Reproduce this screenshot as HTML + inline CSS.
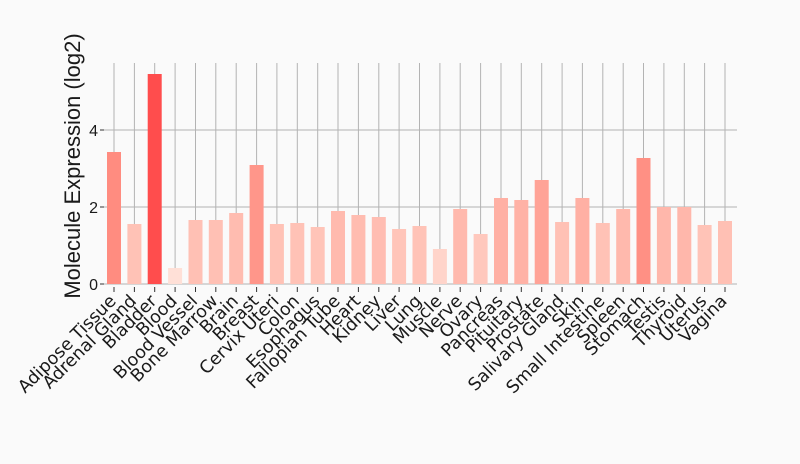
<!DOCTYPE html>
<html><head><style>
html,body{margin:0;padding:0;background:#fafafa;}
svg{display:block;font-family:"Liberation Sans","DejaVu Sans",sans-serif;}
</style></head><body>
<svg width="800" height="464" viewBox="0 0 800 464" xmlns="http://www.w3.org/2000/svg">
<rect width="800" height="464" fill="#fafafa"/>
<g stroke="#b3b3b3" stroke-width="1">
<line x1="104" y1="130" x2="737" y2="130"/><line x1="104" y1="207" x2="737" y2="207"/><line x1="104" y1="284" x2="737" y2="284"/>
<line x1="114" y1="63" x2="114" y2="284"/><line x1="134.4" y1="63" x2="134.4" y2="284"/><line x1="154.7" y1="63" x2="154.7" y2="284"/><line x1="175.1" y1="63" x2="175.1" y2="284"/><line x1="195.5" y1="63" x2="195.5" y2="284"/><line x1="215.8" y1="63" x2="215.8" y2="284"/><line x1="236.2" y1="63" x2="236.2" y2="284"/><line x1="256.6" y1="63" x2="256.6" y2="284"/><line x1="276.9" y1="63" x2="276.9" y2="284"/><line x1="297.3" y1="63" x2="297.3" y2="284"/><line x1="317.7" y1="63" x2="317.7" y2="284"/><line x1="338" y1="63" x2="338" y2="284"/><line x1="358.4" y1="63" x2="358.4" y2="284"/><line x1="378.8" y1="63" x2="378.8" y2="284"/><line x1="399.1" y1="63" x2="399.1" y2="284"/><line x1="419.5" y1="63" x2="419.5" y2="284"/><line x1="439.9" y1="63" x2="439.9" y2="284"/><line x1="460.2" y1="63" x2="460.2" y2="284"/><line x1="480.6" y1="63" x2="480.6" y2="284"/><line x1="501" y1="63" x2="501" y2="284"/><line x1="521.3" y1="63" x2="521.3" y2="284"/><line x1="541.7" y1="63" x2="541.7" y2="284"/><line x1="562.1" y1="63" x2="562.1" y2="284"/><line x1="582.4" y1="63" x2="582.4" y2="284"/><line x1="602.8" y1="63" x2="602.8" y2="284"/><line x1="623.2" y1="63" x2="623.2" y2="284"/><line x1="643.5" y1="63" x2="643.5" y2="284"/><line x1="663.9" y1="63" x2="663.9" y2="284"/><line x1="684.3" y1="63" x2="684.3" y2="284"/><line x1="704.6" y1="63" x2="704.6" y2="284"/><line x1="725" y1="63" x2="725" y2="284"/>
</g>
<g stroke="#333" stroke-width="1">
<line x1="114" y1="287" x2="114" y2="292"/><line x1="134.4" y1="287" x2="134.4" y2="292"/><line x1="154.7" y1="287" x2="154.7" y2="292"/><line x1="175.1" y1="287" x2="175.1" y2="292"/><line x1="195.5" y1="287" x2="195.5" y2="292"/><line x1="215.8" y1="287" x2="215.8" y2="292"/><line x1="236.2" y1="287" x2="236.2" y2="292"/><line x1="256.6" y1="287" x2="256.6" y2="292"/><line x1="276.9" y1="287" x2="276.9" y2="292"/><line x1="297.3" y1="287" x2="297.3" y2="292"/><line x1="317.7" y1="287" x2="317.7" y2="292"/><line x1="338" y1="287" x2="338" y2="292"/><line x1="358.4" y1="287" x2="358.4" y2="292"/><line x1="378.8" y1="287" x2="378.8" y2="292"/><line x1="399.1" y1="287" x2="399.1" y2="292"/><line x1="419.5" y1="287" x2="419.5" y2="292"/><line x1="439.9" y1="287" x2="439.9" y2="292"/><line x1="460.2" y1="287" x2="460.2" y2="292"/><line x1="480.6" y1="287" x2="480.6" y2="292"/><line x1="501" y1="287" x2="501" y2="292"/><line x1="521.3" y1="287" x2="521.3" y2="292"/><line x1="541.7" y1="287" x2="541.7" y2="292"/><line x1="562.1" y1="287" x2="562.1" y2="292"/><line x1="582.4" y1="287" x2="582.4" y2="292"/><line x1="602.8" y1="287" x2="602.8" y2="292"/><line x1="623.2" y1="287" x2="623.2" y2="292"/><line x1="643.5" y1="287" x2="643.5" y2="292"/><line x1="663.9" y1="287" x2="663.9" y2="292"/><line x1="684.3" y1="287" x2="684.3" y2="292"/><line x1="704.6" y1="287" x2="704.6" y2="292"/><line x1="725" y1="287" x2="725" y2="292"/>
<line x1="100" y1="284" x2="104" y2="284"/><line x1="100" y1="207" x2="104" y2="207"/><line x1="100" y1="130" x2="104" y2="130"/>
</g>
<g>
<rect x="107" y="152" width="14" height="132" fill="rgb(255,140,128)"/>
<rect x="127.4" y="224" width="14" height="60" fill="rgb(255,194,182)"/>
<rect x="147.7" y="74" width="14" height="210" fill="rgb(255,77,77)"/>
<rect x="168.1" y="268" width="14" height="16" fill="rgb(255,224,215)"/>
<rect x="188.5" y="220" width="14" height="64" fill="rgb(255,192,180)"/>
<rect x="208.8" y="220" width="14" height="64" fill="rgb(255,192,180)"/>
<rect x="229.2" y="213" width="14" height="71" fill="rgb(255,188,176)"/>
<rect x="249.6" y="165" width="14" height="119" fill="rgb(255,150,138)"/>
<rect x="269.9" y="224" width="14" height="60" fill="rgb(255,194,182)"/>
<rect x="290.3" y="223" width="14" height="61" fill="rgb(255,194,182)"/>
<rect x="310.7" y="227" width="14" height="57" fill="rgb(255,196,184)"/>
<rect x="331" y="211" width="14" height="73" fill="rgb(255,186,174)"/>
<rect x="351.4" y="215" width="14" height="69" fill="rgb(255,188,176)"/>
<rect x="371.8" y="217" width="14" height="67" fill="rgb(255,189,178)"/>
<rect x="392.1" y="229" width="14" height="55" fill="rgb(255,197,185)"/>
<rect x="412.5" y="226" width="14" height="58" fill="rgb(255,195,183)"/>
<rect x="432.9" y="249" width="14" height="35" fill="rgb(255,212,202)"/>
<rect x="453.2" y="209" width="14" height="75" fill="rgb(255,185,173)"/>
<rect x="473.6" y="234" width="14" height="50" fill="rgb(255,200,189)"/>
<rect x="494" y="198" width="14" height="86" fill="rgb(255,176,164)"/>
<rect x="514.3" y="200" width="14" height="84" fill="rgb(255,178,166)"/>
<rect x="534.7" y="180" width="14" height="104" fill="rgb(255,163,151)"/>
<rect x="555.1" y="222" width="14" height="62" fill="rgb(255,193,181)"/>
<rect x="575.4" y="198" width="14" height="86" fill="rgb(255,176,164)"/>
<rect x="595.8" y="223" width="14" height="61" fill="rgb(255,194,182)"/>
<rect x="616.2" y="209" width="14" height="75" fill="rgb(255,185,173)"/>
<rect x="636.5" y="158" width="14" height="126" fill="rgb(255,144,132)"/>
<rect x="656.9" y="207" width="14" height="77" fill="rgb(255,183,171)"/>
<rect x="677.3" y="207" width="14" height="77" fill="rgb(255,183,171)"/>
<rect x="697.6" y="225" width="14" height="59" fill="rgb(255,195,183)"/>
<rect x="718" y="221" width="14" height="63" fill="rgb(255,192,180)"/>
</g>
<g font-size="17.5" fill="#1a1a1a" text-anchor="end" font-family="DejaVu Sans, sans-serif">
<text transform="translate(117,302) rotate(-45)">Adipose Tissue</text>
<text transform="translate(137.4,302) rotate(-45)">Adrenal Gland</text>
<text transform="translate(157.7,302) rotate(-45)">Bladder</text>
<text transform="translate(178.1,302) rotate(-45)">Blood</text>
<text transform="translate(198.5,302) rotate(-45)">Blood Vessel</text>
<text transform="translate(218.8,302) rotate(-45)">Bone Marrow</text>
<text transform="translate(239.2,302) rotate(-45)">Brain</text>
<text transform="translate(259.6,302) rotate(-45)">Breast</text>
<text transform="translate(279.9,302) rotate(-45)">Cervix Uteri</text>
<text transform="translate(300.3,302) rotate(-45)">Colon</text>
<text transform="translate(320.7,302) rotate(-45)">Esophagus</text>
<text transform="translate(341,302) rotate(-45)">Fallopian Tube</text>
<text transform="translate(361.4,302) rotate(-45)">Heart</text>
<text transform="translate(381.8,302) rotate(-45)">Kidney</text>
<text transform="translate(402.1,302) rotate(-45)">Liver</text>
<text transform="translate(422.5,302) rotate(-45)">Lung</text>
<text transform="translate(442.9,302) rotate(-45)">Muscle</text>
<text transform="translate(463.2,302) rotate(-45)">Nerve</text>
<text transform="translate(483.6,302) rotate(-45)">Ovary</text>
<text transform="translate(504,302) rotate(-45)">Pancreas</text>
<text transform="translate(524.3,302) rotate(-45)">Pituitary</text>
<text transform="translate(544.7,302) rotate(-45)">Prostate</text>
<text transform="translate(565.1,302) rotate(-45)">Salivary Gland</text>
<text transform="translate(585.4,302) rotate(-45)">Skin</text>
<text transform="translate(605.8,302) rotate(-45)">Small Intestine</text>
<text transform="translate(626.2,302) rotate(-45)">Spleen</text>
<text transform="translate(646.5,302) rotate(-45)">Stomach</text>
<text transform="translate(666.9,302) rotate(-45)">Testis</text>
<text transform="translate(687.3,302) rotate(-45)">Thyroid</text>
<text transform="translate(707.6,302) rotate(-45)">Uterus</text>
<text transform="translate(728,302) rotate(-45)">Vagina</text>
</g>
<g font-size="16" fill="#1a1a1a" text-anchor="end">
<text x="98" y="290">0</text>
<text x="98" y="213">2</text>
<text x="98" y="136">4</text>
</g>
<text transform="translate(80,166) rotate(-90)" font-size="22" text-anchor="middle" fill="#1a1a1a">Molecule Expression (log2)</text>
</svg>
</body></html>
